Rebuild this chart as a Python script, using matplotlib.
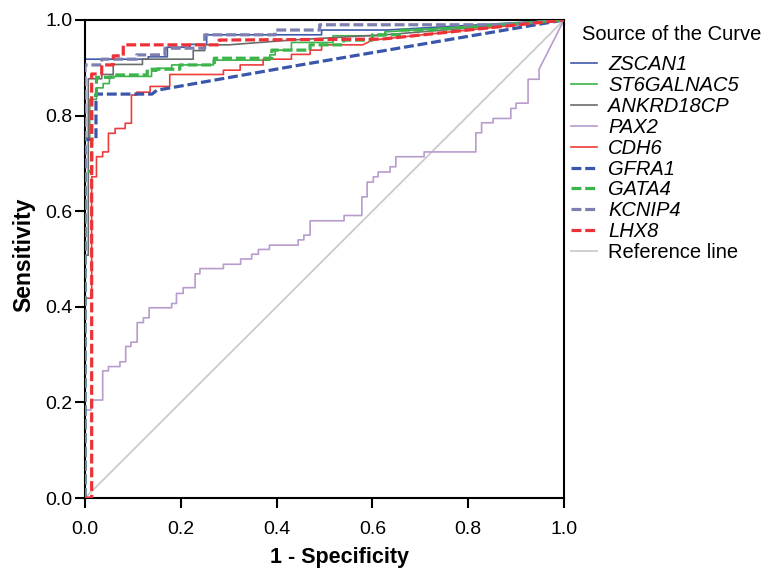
import numpy as np
import matplotlib
matplotlib.use("Agg")
import matplotlib.pyplot as plt

plt.rcParams['font.family'] = ['Liberation Sans', 'DejaVu Sans']

# ROC curves, vertices: (1 - specificity, sensitivity)
zscan1 = [(0, 0), (0, 0.918), (0.132, 0.918), (0.132, 0.923), (0.172, 0.923), (0.172, 0.943),
          (0.219, 0.943), (0.219, 0.949), (0.254, 0.949), (0.254, 0.969), (0.494, 0.969),
          (0.494, 0.979), (0.63, 0.979), (1, 1)]
st6galnac5 = [(0, 0), (0, 0.753), (0.01, 0.753), (0.01, 0.834), (0.024, 0.834), (0.024, 0.858),
              (0.038, 0.858), (0.038, 0.867), (0.051, 0.867), (0.051, 0.882), (0.139, 0.882),
              (0.139, 0.893), (0.15, 0.893), (0.15, 0.899), (0.181, 0.899), (0.181, 0.906),
              (0.268, 0.906), (0.268, 0.916), (0.386, 0.916), (0.386, 0.927), (0.397, 0.927),
              (0.397, 0.937), (0.431, 0.937), (0.431, 0.953), (0.518, 0.953), (0.518, 0.967),
              (0.626, 0.967), (0.626, 0.975), (1, 1)]
ankrd18cp = [(0, 0), (0, 0.508), (0.007, 0.508), (0.007, 0.877), (0.035, 0.877), (0.035, 0.886),
             (0.059, 0.886), (0.059, 0.907), (0.12, 0.907), (0.12, 0.918), (0.226, 0.918),
             (0.226, 0.936), (0.25, 0.936), (0.25, 0.948), (0.3, 0.948), (0.43, 0.958),
             (0.64, 0.97), (1, 1)]
pax2 = [(0, 0), (0, 0.184), (0.0125, 0.184), (0.0125, 0.205), (0.037, 0.205), (0.037, 0.266),
        (0.049, 0.266), (0.049, 0.275), (0.073, 0.275), (0.073, 0.285), (0.085, 0.285),
        (0.085, 0.317), (0.096, 0.317), (0.096, 0.326), (0.109, 0.326), (0.109, 0.367),
        (0.122, 0.367), (0.122, 0.377), (0.134, 0.377), (0.134, 0.398), (0.181, 0.398),
        (0.181, 0.407), (0.191, 0.407), (0.191, 0.428), (0.205, 0.428), (0.205, 0.44),
        (0.23, 0.44), (0.23, 0.469), (0.24, 0.469), (0.24, 0.48), (0.289, 0.48),
        (0.289, 0.489), (0.325, 0.489), (0.325, 0.5), (0.348, 0.5), (0.348, 0.51),
        (0.362, 0.51), (0.362, 0.52), (0.385, 0.52), (0.385, 0.529), (0.445, 0.529),
        (0.445, 0.54), (0.457, 0.54), (0.457, 0.55), (0.47, 0.55), (0.47, 0.58),
        (0.541, 0.58), (0.541, 0.591), (0.578, 0.591), (0.578, 0.63), (0.589, 0.63),
        (0.589, 0.661), (0.602, 0.661), (0.602, 0.672), (0.612, 0.672), (0.612, 0.682),
        (0.637, 0.682), (0.637, 0.693), (0.649, 0.693), (0.649, 0.714), (0.708, 0.714),
        (0.708, 0.724), (0.816, 0.724), (0.816, 0.764), (0.828, 0.764), (0.828, 0.785),
        (0.852, 0.785), (0.852, 0.794), (0.889, 0.794), (0.889, 0.815), (0.9, 0.815),
        (0.9, 0.826), (0.925, 0.826), (0.925, 0.876), (0.948, 0.876), (0.948, 0.897), (1, 1)]
cdh6 = [(0, 0), (0, 0.418), (0.014, 0.418), (0.014, 0.672), (0.024, 0.672), (0.024, 0.714),
        (0.037, 0.714), (0.037, 0.724), (0.049, 0.724), (0.049, 0.763), (0.063, 0.763),
        (0.063, 0.773), (0.084, 0.773), (0.084, 0.784), (0.097, 0.784), (0.097, 0.843),
        (0.108, 0.843), (0.108, 0.849), (0.136, 0.849), (0.136, 0.861), (0.177, 0.861),
        (0.177, 0.886), (0.289, 0.886), (0.289, 0.895), (0.324, 0.895), (0.324, 0.906),
        (0.372, 0.906), (0.372, 0.918), (0.431, 0.918), (0.431, 0.928), (0.47, 0.928),
        (0.47, 0.937), (0.494, 0.937), (0.494, 0.948), (0.58, 0.948), (0.6, 0.958), (1, 1)]
gfra1 = [(0, 0), (0, 0.75), (0.023, 0.75), (0.023, 0.845), (0.14, 0.845), (0.15, 0.853),
         (0.45, 0.906), (1, 1)]
gata4 = [(0, 0), (0, 0.683), (0.014, 0.683), (0.014, 0.843), (0.024, 0.843), (0.024, 0.88),
         (0.06, 0.88), (0.06, 0.885), (0.13, 0.885), (0.13, 0.897), (0.198, 0.897),
         (0.198, 0.906), (0.27, 0.906), (0.27, 0.92), (0.39, 0.92), (0.39, 0.937),
         (0.47, 0.937), (0.47, 0.948), (0.54, 0.948), (0.54, 0.958), (0.6, 0.958),
         (0.6, 0.969), (0.66, 0.969), (0.66, 0.979), (0.72, 0.979), (1, 1)]
kcnip4 = [(0, 0), (0, 0.906), (0.035, 0.906), (0.035, 0.918), (0.108, 0.918), (0.108, 0.927),
          (0.167, 0.927), (0.167, 0.941), (0.25, 0.941), (0.25, 0.969), (0.397, 0.969),
          (0.397, 0.979), (0.49, 0.979), (0.49, 0.99), (0.88, 0.99), (1, 1)]
lhx8 = [(0, 0), (0.014, 0), (0.014, 0.887), (0.035, 0.887), (0.035, 0.906), (0.059, 0.906),
        (0.059, 0.925), (0.08, 0.925), (0.08, 0.948), (0.28, 0.948), (0.28, 0.958),
        (0.62, 0.96), (1, 1)]
reference = [(0, 0), (1, 1)]

curves = [
    ("ZSCAN1", zscan1, "#3e5ba9", "-"),
    ("ST6GALNAC5", st6galnac5, "#3cb44b", "-"),
    ("ANKRD18CP", ankrd18cp, "#6b6b6b", "-"),
    ("PAX2", pax2, "#b89ccc", "-"),
    ("CDH6", cdh6, "#ee3b3b", "-"),
    ("GFRA1", gfra1, "#3a56ab", "--"),
    ("GATA4", gata4, "#3cb44b", "--"),
    ("KCNIP4", kcnip4, "#7c80b0", "--"),
    ("LHX8", lhx8, "#ec3237", "--"),
]

fig = plt.figure(figsize=(7.71, 5.71), dpi=100)
ax = fig.add_axes([0.1102, 0.1278, 0.6213, 0.8372])

ref = np.array(reference)
ref_line, = ax.plot(ref[:, 0], ref[:, 1], color="#cbcbcb", lw=1.3, zorder=1)

handles = []
for name, pts, col, ls in curves:
    p = np.array(pts)
    if ls == "--":
        h, = ax.plot(p[:, 0], p[:, 1], color=col, lw=2.3, dashes=(3.1, 1.2), zorder=3)
    else:
        h, = ax.plot(p[:, 0], p[:, 1], color=col, lw=1.2, zorder=2)
    handles.append(h)
handles.append(ref_line)

ax.set_xlim(0, 1)
ax.set_ylim(0, 1)
ax.set_xticks(np.arange(0, 1.01, 0.2))
ax.set_yticks(np.arange(0, 1.01, 0.2))
ax.xaxis.set_major_formatter(plt.FormatStrFormatter("%.1f"))
ax.yaxis.set_major_formatter(plt.FormatStrFormatter("%.1f"))
ax.tick_params(direction="out", length=7.5, width=1.5, labelsize=14, color="black")
ax.tick_params(axis="x", pad=9)
ax.tick_params(axis="y", pad=1.5)
for s in ax.spines.values():
    s.set_linewidth(1.5)

ax.set_xlabel("1 - Specificity", fontsize=15.5, fontweight="bold", va="center")
ax.set_ylabel("Sensitivity", fontsize=16.5, fontweight="bold", va="center")
ax.xaxis.set_label_coords(0.532, -0.1254)
ax.yaxis.set_label_coords(-0.128, 0.508)

labels = [c[0] for c in curves] + ["Reference line"]
fig.text(582 / 771, 1 - 35 / 571, "Source of the Curve", fontsize=14.5, ha="left", va="center")
leg = fig.legend(handles, labels, loc="upper left", bbox_to_anchor=(571 / 771, 1 - 55.5 / 571),
                 frameon=False, fontsize=14.5, handlelength=1.3, handletextpad=0.55,
                 labelspacing=0.09, borderpad=0, borderaxespad=0)
for t in leg.get_texts()[:-1]:
    t.set_fontstyle("italic")

fig.savefig("out.png", dpi=100)
